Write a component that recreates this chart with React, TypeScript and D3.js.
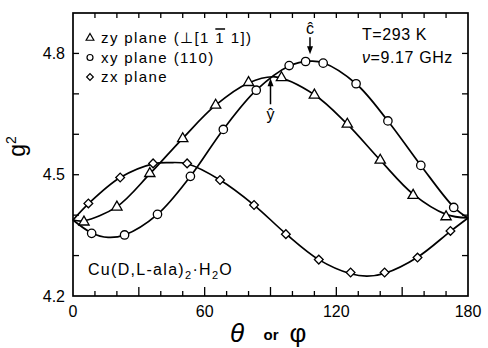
import React, { useEffect, useRef } from 'react';
import * as d3 from 'd3';

const angleTicks = [0, 60, 120, 180];
const gTicks = [4.2, 4.5, 4.8];

// measured points
const zyAngles = [5, 20, 35, 50, 65, 80, 95, 110, 125, 140, 155, 170];
const zyValues = [4.383, 4.42, 4.503, 4.589, 4.672, 4.728, 4.74, 4.697, 4.625, 4.536, 4.449, 4.396];
const xyAngles = [8.5, 23.5, 38.5, 53.5, 68.5, 83.5, 98.5, 106, 114, 129, 143.5, 158.5, 173.5];
const xyValues = [4.355, 4.351, 4.402, 4.496, 4.612, 4.709, 4.77, 4.78, 4.776, 4.725, 4.633, 4.523, 4.419];
const zxAngles = [7, 21.5, 36.5, 52, 67, 82.5, 97, 112, 126.5, 142, 157, 172];
const zxValues = [4.429, 4.493, 4.528, 4.528, 4.487, 4.425, 4.353, 4.29, 4.258, 4.258, 4.295, 4.361];

// fitted curves
const zyCurveAngles = [0, 5, 20, 35, 50, 65, 80, 92, 110, 125, 140, 155, 170, 180];
const zyCurveValues = [4.388, 4.386, 4.421, 4.502, 4.59, 4.672, 4.727, 4.742, 4.698, 4.625, 4.536, 4.452, 4.402, 4.393];
const xyCurveAngles = [0, 8.5, 16, 23.5, 38.5, 53.5, 68.5, 83.5, 98.5, 108, 114, 129, 143.5, 158.5, 173.5, 180];
const xyCurveValues = [4.388, 4.356, 4.345, 4.351, 4.402, 4.496, 4.612, 4.709, 4.769, 4.781, 4.777, 4.725, 4.633, 4.523, 4.42, 4.393];
const zxCurveAngles = [0, 7, 21.5, 36.5, 44, 52, 67, 82.5, 97, 112, 126.5, 134, 142, 157, 172, 180];
const zxCurveValues = [4.388, 4.428, 4.493, 4.527, 4.53, 4.527, 4.487, 4.425, 4.354, 4.29, 4.255, 4.249, 4.256, 4.296, 4.36, 4.393];

const cAxis = { angle: 108, g: 4.788 };
const yAxis = { angle: 90, g: 4.746 };

const FONT = '"Liberation Sans", Arial, sans-serif';

const App: React.FC = () => {
  const ref = useRef<SVGSVGElement | null>(null);

  useEffect(() => {
    const W = 488, H = 348;
    const svg = d3.select(ref.current);
    svg.selectAll('*').remove();
    svg.attr('width', W).attr('height', H);

    const x = d3.scaleLinear().domain([0, 180]).range([73, 468]);
    const y = d3.scaleLinear().domain([4.2, 4.9]).range([296, 13]);
    const [x0, x1] = x.range();
    const [y0, y1] = y.range();

    // frame
    svg.append('rect')
      .attr('x', x0).attr('y', y1)
      .attr('width', x1 - x0).attr('height', y0 - y1)
      .attr('fill', 'none').attr('stroke', '#000').attr('stroke-width', 1.7);

    // x ticks, every 10 deg, longer every 30
    d3.range(10, 180, 10).forEach(a => {
      const major = a % 30 === 0;
      svg.append('line')
        .attr('x1', x(a)).attr('x2', x(a))
        .attr('y1', y0).attr('y2', y0 - (major ? 9 : 5))
        .attr('stroke', '#000').attr('stroke-width', 1.3);
      svg.append('line')
        .attr('x1', x(a)).attr('x2', x(a))
        .attr('y1', y1).attr('y2', y1 + 5)
        .attr('stroke', '#000').attr('stroke-width', 1.3);
    });

    // y ticks every 0.1
    d3.range(4.3, 4.85, 0.1).forEach(g => {
      svg.append('line')
        .attr('x1', x0).attr('x2', x0 + 6)
        .attr('y1', y(g)).attr('y2', y(g))
        .attr('stroke', '#000').attr('stroke-width', 1.3);
      svg.append('line')
        .attr('x1', x1).attr('x2', x1 - 6)
        .attr('y1', y(g)).attr('y2', y(g))
        .attr('stroke', '#000').attr('stroke-width', 1.3);
    });

    // tick labels
    angleTicks.forEach(a => {
      svg.append('text')
        .attr('x', x(a)).attr('y', y0 + 21)
        .attr('text-anchor', 'middle')
        .style('font-family', FONT).style('font-size', '16px')
        .text(String(a));
    });
    gTicks.forEach(g => {
      svg.append('text')
        .attr('x', x0 - 8).attr('y', y(g))
        .attr('dy', '0.35em')
        .attr('text-anchor', 'end')
        .style('font-family', FONT).style('font-size', '16px')
        .text(g.toFixed(1));
    });

    // axis titles
    const yt = svg.append('text')
      .attr('transform', `translate(25,${y(4.57)}) rotate(-90)`)
      .attr('text-anchor', 'middle')
      .style('font-family', FONT).style('font-size', '23px');
    yt.append('tspan').text('g');
    yt.append('tspan').attr('dy', -9).style('font-size', '14px').text('2');

    svg.append('text')
      .attr('x', 237).attr('y', 342)
      .attr('text-anchor', 'middle')
      .style('font-family', FONT).style('font-size', '26px').style('font-style', 'italic')
      .text('θ');
    svg.append('text')
      .attr('x', 271).attr('y', 340)
      .attr('text-anchor', 'middle')
      .style('font-family', FONT).style('font-size', '15px').style('font-weight', 'bold')
      .text('or');
    svg.append('text')
      .attr('x', 298).attr('y', 342)
      .attr('text-anchor', 'middle')
      .style('font-family', FONT).style('font-size', '26px')
      .text('φ');

    // curves
    const line = d3.line<[number, number]>()
      .x(d => x(d[0])).y(d => y(d[1]))
      .curve(d3.curveCatmullRom.alpha(0.5));
    const curves: [number[], number[]][] = [
      [zyCurveAngles, zyCurveValues],
      [xyCurveAngles, xyCurveValues],
      [zxCurveAngles, zxCurveValues],
    ];
    curves.forEach(([as, gs]) => {
      svg.append('path')
        .attr('d', line(as.map((a, i) => [a, gs[i]] as [number, number])))
        .attr('fill', 'none').attr('stroke', '#000').attr('stroke-width', 1.7);
    });

    // markers
    const tri = d3.symbol().type(d3.symbolTriangle).size(46)();
    const dia = d3.symbol().type(d3.symbolSquare).size(38)();
    const drawMarkers = (as: number[], gs: number[], kind: string) => {
      as.forEach((a, i) => {
        const cx = x(a), cy = y(gs[i]);
        if (kind === 'circle') {
          svg.append('circle').attr('cx', cx).attr('cy', cy).attr('r', 4.2)
            .attr('fill', '#fff').attr('stroke', '#000').attr('stroke-width', 1.3);
        } else {
          svg.append('path')
            .attr('d', kind === 'tri' ? tri : dia)
            .attr('transform', `translate(${cx},${cy})${kind === 'dia' ? ' rotate(45)' : ''}`)
            .attr('fill', '#fff').attr('stroke', '#000').attr('stroke-width', 1.3);
        }
      });
    };
    drawMarkers(zyAngles, zyValues, 'tri');
    drawMarkers(xyAngles, xyValues, 'circle');
    drawMarkers(zxAngles, zxValues, 'dia');

    // legend
    const legendRows = [
      { kind: 'tri', label: 'zy plane' },
      { kind: 'circle', label: 'xy plane (110)' },
      { kind: 'dia', label: 'zx plane' },
    ];
    legendRows.forEach((row, i) => {
      const ly = 38 + i * 19.5;
      if (row.kind === 'circle') {
        svg.append('circle').attr('cx', 90).attr('cy', ly).attr('r', 3)
          .attr('fill', '#fff').attr('stroke', '#000').attr('stroke-width', 1.2);
      } else {
        svg.append('path')
          .attr('d', row.kind === 'tri' ? d3.symbol().type(d3.symbolTriangle).size(26)() : d3.symbol().type(d3.symbolSquare).size(22)())
          .attr('transform', `translate(90,${ly})${row.kind === 'dia' ? ' rotate(45)' : ''}`)
          .attr('fill', '#fff').attr('stroke', '#000').attr('stroke-width', 1.2);
      }
      const t = svg.append('text')
        .attr('x', 101).attr('y', ly).attr('dy', '0.35em')
        .style('font-family', FONT).style('font-size', '15px')
        .style('letter-spacing', '1.4px')
        .text(row.label);
      if (i === 0) {
        t.append('tspan').text(' (⊥[1 ');
        t.append('tspan').style('text-decoration', 'overline').text('1');
        t.append('tspan').text(' 1])');
      }
    });

    // conditions
    svg.append('text')
      .attr('x', 362).attr('y', 40)
      .style('font-family', FONT).style('font-size', '16px').style('letter-spacing', '0.6px')
      .text('T=293 K');
    const nu = svg.append('text')
      .attr('x', 362).attr('y', 63)
      .style('font-family', FONT).style('font-size', '16px').style('letter-spacing', '0.6px');
    nu.append('tspan').style('font-style', 'italic').text('ν');
    nu.append('tspan').text('=9.17 GHz');

    // compound
    const cu = svg.append('text')
      .attr('x', 88).attr('y', 275)
      .style('font-family', FONT).style('font-size', '16px').style('letter-spacing', '1.3px');
    cu.append('tspan').text('Cu(D,L-ala)');
    cu.append('tspan').attr('dy', 4).style('font-size', '11px').text('2');
    cu.append('tspan').attr('dy', -4).text('·H');
    cu.append('tspan').attr('dy', 4).style('font-size', '11px').text('2');
    cu.append('tspan').attr('dy', -4).text('O');

    // axis arrows
    const arrow = (ax: number, tipY: number, tailY: number) => {
      const dir = tipY > tailY ? 1 : -1;
      svg.append('line')
        .attr('x1', ax).attr('x2', ax)
        .attr('y1', tailY).attr('y2', tipY - dir * 6)
        .attr('stroke', '#000').attr('stroke-width', 1.5);
      svg.append('path')
        .attr('d', `M${ax},${tipY} L${ax - 3},${tipY - dir * 8} L${ax + 3},${tipY - dir * 8} Z`)
        .attr('fill', '#000');
    };
    const cx = x(cAxis.angle), cTip = y(cAxis.g) - 4;
    arrow(cx, cTip, cTip - 17);
    svg.append('text')
      .attr('x', cx).attr('y', cTip - 20)
      .attr('text-anchor', 'middle')
      .style('font-family', FONT).style('font-size', '16px')
      .text('ĉ');
    const yx = x(yAxis.angle), yTip = y(yAxis.g) + 3;
    arrow(yx, yTip, yTip + 26);
    svg.append('text')
      .attr('x', yx).attr('y', yTip + 42)
      .attr('text-anchor', 'middle')
      .style('font-family', FONT).style('font-size', '16px')
      .text('ŷ');
  }, []);

  return <svg ref={ref} style={{ position: 'absolute', left: 0, top: 0 }}></svg>;
};

export default App;
